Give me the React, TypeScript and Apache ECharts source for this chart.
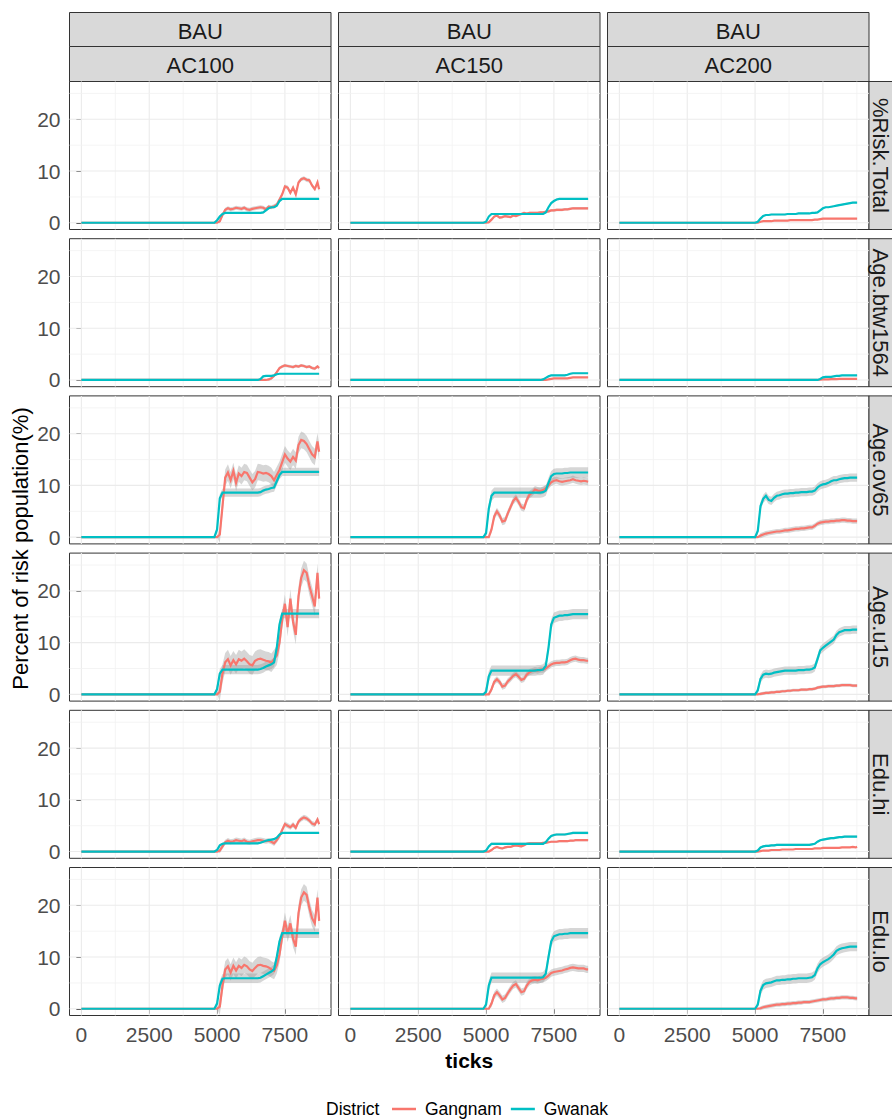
import React, { useEffect, useRef } from "react";
import * as echarts from "echarts";

// ---------------- data ----------------
const TICKS = [0, 4800, 4900, 5000, 5100, 5200, 5300, 5400, 5500, 5600, 5700, 5800, 5900, 6000, 6100, 6200, 6300, 6400, 6500, 6600, 6700, 6800, 6900, 7000, 7100, 7200, 7300, 7400, 7500, 7600, 7700, 7800, 7900, 8000, 8100, 8200, 8300, 8400, 8500, 8600, 8700, 8760];

const TOP_STRIP = "BAU";
const COLUMNS = ["AC100", "AC150", "AC200"];
const ROWS = ["%Risk.Total", "Age.btw1564", "Age.ov65", "Age.u15", "Edu.hi", "Edu.lo"];
const DISTRICTS = ["Gangnam", "Gwanak"];
const X_TICK_LABELS = [0, 2500, 5000, 7500];
const Y_TICK_LABELS = [0, 10, 20];
const X_GRID = [0, 1250, 2500, 3750, 5000, 6250, 7500, 8750];
const Y_GRID = [0, 5, 10, 15, 20, 25];

// AC100
const GANGNAM_AC100_RISK = [0, 0, 0, 0, 0.3, 1.5, 2.5, 2.8, 2.6, 2.7, 2.9, 2.8, 2.7, 2.9, 2.6, 2.5, 2.7, 2.8, 2.9, 3.0, 2.9, 2.6, 3.1, 3.0, 3.2, 3.5, 4.5, 5.5, 7.0, 6.8, 5.8, 6.8, 5.5, 7.8, 8.4, 8.6, 8.3, 8.2, 7.2, 6.5, 7.8, 6.5];
const GWANAK_AC100_RISK = [0, 0, 0, 0.5, 1.2, 1.7, 1.9, 1.9, 1.9, 1.9, 1.9, 1.9, 1.9, 1.9, 1.9, 1.9, 1.9, 1.9, 1.9, 1.9, 2.0, 2.4, 2.8, 3.0, 3.0, 3.3, 4.2, 4.6, 4.6, 4.6, 4.6, 4.6, 4.6, 4.6, 4.6, 4.6, 4.6, 4.6, 4.6, 4.6, 4.6, 4.6];
const GANGNAM_AC100_BTW1564 = [0, 0, 0, 0, 0, 0, 0, 0, 0, 0, 0, 0, 0, 0, 0, 0, 0, 0, 0, 0, 0, 0, 0.1, 0.3, 0.8, 1.5, 2.3, 2.6, 2.8, 2.7, 2.6, 2.5, 2.7, 2.6, 2.8, 2.7, 2.5, 2.6, 2.3, 2.2, 2.6, 2.3];
const GWANAK_AC100_BTW1564 = [0, 0, 0, 0, 0, 0, 0, 0, 0, 0, 0, 0, 0, 0, 0, 0, 0, 0, 0, 0.2, 0.7, 0.8, 0.8, 0.8, 0.9, 1.1, 1.2, 1.2, 1.2, 1.2, 1.2, 1.2, 1.2, 1.2, 1.2, 1.2, 1.2, 1.2, 1.2, 1.2, 1.2, 1.2];
const GANGNAM_AC100_OV65 = [0, 0, 0, 0, 0.5, 6.0, 11.5, 12.5, 11.0, 12.8, 10.5, 12.3, 11.8, 12.6, 12.4, 11.5, 10.6, 11.2, 12.6, 12.5, 12.3, 12.4, 12.2, 11.8, 11.0, 12.0, 13.0, 14.5, 16.0, 15.2, 14.6, 15.5, 14.8, 17.8, 18.8, 18.6, 18.0, 17.0, 16.0, 15.5, 18.5, 16.5];
const GWANAK_AC100_OV65 = [0, 0, 0, 1.5, 7.5, 8.6, 8.6, 8.6, 8.6, 8.6, 8.6, 8.6, 8.6, 8.6, 8.6, 8.6, 8.6, 8.6, 8.6, 8.7, 9.0, 9.2, 9.3, 9.5, 9.6, 10.8, 12.0, 12.6, 12.6, 12.6, 12.6, 12.6, 12.6, 12.6, 12.6, 12.6, 12.6, 12.6, 12.6, 12.6, 12.6, 12.6];
const GANGNAM_AC100_U15 = [0, 0, 0, 0, 0.5, 4.0, 6.2, 6.8, 5.6, 6.6, 5.8, 6.8, 6.5, 6.9, 6.4, 5.8, 5.6, 6.5, 6.8, 6.9, 6.7, 6.5, 6.4, 6.1, 6.8, 7.5, 10.0, 14.5, 17.5, 13.0, 18.5, 14.0, 11.5, 19.0, 22.5, 24.0, 23.5, 21.0, 19.0, 17.0, 23.5, 18.5];
const GWANAK_AC100_U15 = [0, 0, 0, 1.0, 4.0, 4.8, 4.8, 4.8, 4.8, 4.8, 4.8, 4.8, 4.8, 4.8, 4.8, 4.8, 4.8, 4.8, 4.8, 4.9, 5.1, 5.4, 5.6, 5.8, 6.2, 9.0, 13.5, 15.6, 15.6, 15.6, 15.6, 15.6, 15.6, 15.6, 15.6, 15.6, 15.6, 15.6, 15.6, 15.6, 15.6, 15.6];
const GANGNAM_AC100_EDUHI = [0, 0, 0, 0, 0.2, 1.0, 1.8, 2.1, 1.9, 2.0, 2.2, 2.1, 2.0, 2.2, 1.9, 1.8, 2.0, 2.1, 2.2, 2.2, 2.1, 2.0, 2.1, 1.9, 1.6, 2.2, 3.0, 4.2, 5.3, 5.0, 4.7, 5.2, 4.6, 5.8, 6.3, 6.6, 6.4, 6.0, 5.4, 5.2, 6.2, 5.3];
const GWANAK_AC100_EDUHI = [0, 0, 0, 0.3, 1.2, 1.5, 1.6, 1.6, 1.6, 1.6, 1.6, 1.6, 1.6, 1.6, 1.6, 1.6, 1.6, 1.6, 1.6, 1.7, 1.9, 2.1, 2.2, 2.3, 2.4, 2.7, 3.3, 3.6, 3.6, 3.6, 3.6, 3.6, 3.6, 3.6, 3.6, 3.6, 3.6, 3.6, 3.6, 3.6, 3.6, 3.6];
const GANGNAM_AC100_EDULO = [0, 0, 0, 0, 0.4, 4.5, 7.6, 8.2, 7.0, 8.3, 7.4, 8.3, 7.9, 8.5, 8.2, 7.6, 7.3, 7.9, 8.4, 8.5, 8.3, 8.2, 8.0, 7.6, 7.3, 8.4, 10.5, 14.0, 17.0, 14.5, 16.5, 13.5, 12.0, 18.5, 21.5, 22.5, 22.0, 19.5, 17.5, 16.5, 21.5, 17.0];
const GWANAK_AC100_EDULO = [0, 0, 0, 1.0, 4.5, 5.8, 5.9, 5.9, 5.9, 5.9, 5.9, 5.9, 5.9, 5.9, 5.9, 5.9, 5.9, 5.9, 5.9, 6.0, 6.3, 6.6, 6.9, 7.2, 7.6, 10.0, 13.0, 14.6, 14.6, 14.6, 14.6, 14.6, 14.6, 14.6, 14.6, 14.6, 14.6, 14.6, 14.6, 14.6, 14.6, 14.6];

// AC150
const GANGNAM_AC150_RISK = [0, 0, 0, 0, 0.1, 0.6, 1.2, 1.4, 1.0, 1.1, 1.3, 1.2, 1.1, 1.4, 1.3, 1.5, 1.7, 1.9, 1.8, 1.9, 1.9, 1.9, 1.9, 2.0, 2.0, 2.1, 2.2, 2.4, 2.4, 2.5, 2.5, 2.5, 2.6, 2.6, 2.7, 2.8, 2.8, 2.8, 2.8, 2.8, 2.8, 2.8];
const GWANAK_AC150_RISK = [0, 0, 0, 0.2, 1.2, 1.7, 1.7, 1.7, 1.7, 1.7, 1.7, 1.7, 1.7, 1.7, 1.7, 1.7, 1.7, 1.7, 1.7, 1.7, 1.7, 1.7, 1.7, 1.7, 1.7, 2.0, 3.0, 3.8, 4.2, 4.5, 4.6, 4.6, 4.6, 4.6, 4.6, 4.6, 4.6, 4.6, 4.6, 4.6, 4.6, 4.6];
const GANGNAM_AC150_BTW1564 = [0, 0, 0, 0, 0, 0, 0, 0, 0, 0, 0, 0, 0, 0, 0, 0, 0, 0, 0, 0, 0, 0, 0, 0, 0, 0, 0.1, 0.2, 0.3, 0.3, 0.3, 0.3, 0.3, 0.3, 0.4, 0.5, 0.5, 0.5, 0.5, 0.5, 0.5, 0.5];
const GWANAK_AC150_BTW1564 = [0, 0, 0, 0, 0, 0, 0, 0, 0, 0, 0, 0, 0, 0, 0, 0, 0, 0, 0, 0, 0, 0, 0, 0, 0.1, 0.4, 0.7, 0.9, 0.9, 0.9, 0.9, 0.9, 0.9, 1.0, 1.2, 1.3, 1.3, 1.3, 1.3, 1.3, 1.3, 1.3];
const GANGNAM_AC150_OV65 = [0, 0, 0, 0, 0, 1.5, 4.0, 5.0, 4.2, 3.0, 3.2, 4.6, 5.8, 7.0, 7.6, 6.8, 5.8, 5.6, 7.2, 8.2, 8.6, 9.2, 9.0, 8.9, 9.1, 9.4, 10.0, 10.6, 10.9, 11.0, 10.8, 10.7, 10.8, 10.9, 11.0, 11.2, 11.0, 10.9, 10.8, 10.9, 10.8, 10.7];
const GWANAK_AC150_OV65 = [0, 0, 0, 0.8, 5.5, 8.0, 8.6, 8.6, 8.6, 8.6, 8.6, 8.6, 8.6, 8.6, 8.6, 8.6, 8.6, 8.6, 8.6, 8.6, 8.6, 8.6, 8.6, 8.6, 8.7, 9.0, 10.5, 11.8, 12.2, 12.3, 12.3, 12.3, 12.4, 12.4, 12.5, 12.5, 12.5, 12.5, 12.5, 12.5, 12.5, 12.5];
const GANGNAM_AC150_U15 = [0, 0, 0, 0, 0, 1.0, 2.4, 2.9, 2.4, 1.5, 1.7, 2.5, 3.0, 3.6, 3.9, 3.4, 2.8, 3.0, 3.8, 4.3, 4.5, 4.7, 4.6, 4.8, 4.8, 5.0, 5.4, 5.8, 6.0, 6.1, 6.1, 6.2, 6.2, 6.3, 6.6, 6.8, 6.9, 6.7, 6.6, 6.6, 6.5, 6.5];
const GWANAK_AC150_U15 = [0, 0, 0, 0.5, 3.5, 4.6, 4.6, 4.6, 4.6, 4.6, 4.6, 4.6, 4.6, 4.6, 4.6, 4.6, 4.6, 4.6, 4.6, 4.6, 4.6, 4.6, 4.7, 4.7, 4.8, 5.5, 9.0, 13.5, 14.8, 15.0, 15.2, 15.2, 15.3, 15.3, 15.4, 15.5, 15.5, 15.5, 15.5, 15.5, 15.5, 15.5];
const GANGNAM_AC150_EDUHI = [0, 0, 0, 0, 0, 0.3, 0.7, 0.9, 0.7, 0.6, 0.8, 0.9, 0.9, 1.1, 1.2, 1.1, 1.0, 1.2, 1.5, 1.6, 1.6, 1.6, 1.6, 1.6, 1.7, 1.7, 1.8, 1.9, 1.9, 1.9, 2.0, 2.0, 2.0, 2.0, 2.1, 2.1, 2.2, 2.2, 2.2, 2.2, 2.2, 2.2];
const GWANAK_AC150_EDUHI = [0, 0, 0, 0.2, 1.0, 1.5, 1.5, 1.5, 1.5, 1.5, 1.5, 1.5, 1.5, 1.5, 1.5, 1.5, 1.5, 1.5, 1.5, 1.5, 1.5, 1.5, 1.5, 1.5, 1.5, 1.8, 2.5, 3.0, 3.2, 3.3, 3.3, 3.3, 3.3, 3.4, 3.5, 3.6, 3.6, 3.6, 3.6, 3.6, 3.6, 3.6];
const GANGNAM_AC150_EDULO = [0, 0, 0, 0, 0, 1.0, 2.6, 3.2, 2.6, 1.8, 2.1, 3.0, 3.8, 4.5, 4.8, 4.0, 3.2, 3.4, 4.5, 5.2, 5.5, 5.6, 5.5, 5.7, 5.8, 6.0, 6.4, 6.9, 7.1, 7.2, 7.3, 7.4, 7.6, 7.7, 7.9, 8.0, 7.9, 7.8, 7.8, 7.8, 7.6, 7.6];
const GWANAK_AC150_EDULO = [0, 0, 0, 0.8, 4.5, 6.0, 6.0, 6.0, 6.0, 6.0, 6.0, 6.0, 6.0, 6.0, 6.0, 6.0, 6.0, 6.0, 6.0, 6.0, 6.0, 6.0, 6.0, 6.0, 6.1, 6.8, 10.0, 13.0, 14.0, 14.2, 14.4, 14.4, 14.5, 14.5, 14.6, 14.6, 14.6, 14.6, 14.6, 14.6, 14.6, 14.6];

// AC200
const GANGNAM_AC200_RISK = [0, 0, 0, 0, 0, 0.2, 0.3, 0.3, 0.3, 0.3, 0.4, 0.4, 0.4, 0.4, 0.4, 0.4, 0.5, 0.5, 0.5, 0.5, 0.5, 0.5, 0.5, 0.5, 0.5, 0.6, 0.6, 0.7, 0.8, 0.8, 0.8, 0.8, 0.8, 0.8, 0.8, 0.8, 0.8, 0.8, 0.8, 0.8, 0.8, 0.8];
const GWANAK_AC200_RISK = [0, 0, 0, 0, 0.2, 0.8, 1.3, 1.5, 1.5, 1.6, 1.6, 1.6, 1.6, 1.6, 1.6, 1.7, 1.7, 1.7, 1.7, 1.8, 1.8, 1.8, 1.8, 1.8, 1.9, 1.9, 2.0, 2.4, 2.8, 3.0, 3.0, 3.1, 3.2, 3.3, 3.4, 3.5, 3.6, 3.7, 3.8, 3.9, 3.9, 3.9];
const GANGNAM_AC200_BTW1564 = [0, 0, 0, 0, 0, 0, 0, 0, 0, 0, 0, 0, 0, 0, 0, 0, 0, 0, 0, 0, 0, 0, 0, 0, 0, 0, 0, 0.05, 0.1, 0.1, 0.1, 0.15, 0.15, 0.15, 0.2, 0.2, 0.2, 0.2, 0.2, 0.2, 0.2, 0.2];
const GWANAK_AC200_BTW1564 = [0, 0, 0, 0, 0, 0, 0, 0, 0, 0, 0, 0, 0, 0, 0, 0, 0, 0, 0, 0, 0, 0, 0, 0, 0, 0, 0, 0.2, 0.5, 0.6, 0.6, 0.6, 0.7, 0.8, 0.8, 0.9, 0.9, 0.9, 0.9, 0.9, 0.9, 0.9];
const GANGNAM_AC200_OV65 = [0, 0, 0, 0, 0, 0.3, 0.5, 0.7, 0.8, 0.9, 1.0, 1.1, 1.1, 1.2, 1.3, 1.3, 1.4, 1.5, 1.6, 1.6, 1.7, 1.7, 1.8, 1.9, 1.9, 2.2, 2.6, 2.8, 2.9, 3.0, 3.0, 3.1, 3.1, 3.2, 3.2, 3.3, 3.3, 3.2, 3.2, 3.1, 3.1, 3.1];
const GWANAK_AC200_OV65 = [0, 0, 0, 0, 1.2, 6.0, 7.4, 8.0, 7.2, 7.0, 7.6, 8.0, 8.1, 8.3, 8.4, 8.4, 8.5, 8.5, 8.6, 8.6, 8.7, 8.7, 8.7, 8.8, 8.8, 9.0, 9.6, 10.0, 10.2, 10.3, 10.5, 10.8, 11.0, 11.0, 11.2, 11.3, 11.4, 11.4, 11.5, 11.5, 11.5, 11.5];
const GANGNAM_AC200_U15 = [0, 0, 0, 0, 0, 0.1, 0.2, 0.3, 0.3, 0.4, 0.4, 0.5, 0.5, 0.6, 0.6, 0.7, 0.7, 0.8, 0.8, 0.8, 0.9, 0.9, 0.9, 1.0, 1.0, 1.1, 1.3, 1.4, 1.5, 1.5, 1.6, 1.6, 1.6, 1.7, 1.7, 1.8, 1.8, 1.8, 1.8, 1.7, 1.7, 1.7];
const GWANAK_AC200_U15 = [0, 0, 0, 0, 0.8, 3.0, 3.8, 4.0, 3.9, 4.0, 4.2, 4.3, 4.4, 4.5, 4.6, 4.6, 4.6, 4.6, 4.6, 4.7, 4.7, 4.7, 4.8, 4.8, 4.9, 5.2, 6.8, 8.5, 9.0, 9.4, 9.8, 10.2, 10.6, 11.5, 12.0, 12.2, 12.4, 12.4, 12.4, 12.5, 12.5, 12.5];
const GANGNAM_AC200_EDUHI = [0, 0, 0, 0, 0, 0.1, 0.2, 0.2, 0.2, 0.3, 0.3, 0.3, 0.3, 0.4, 0.4, 0.4, 0.4, 0.4, 0.5, 0.5, 0.5, 0.5, 0.5, 0.5, 0.5, 0.6, 0.6, 0.6, 0.7, 0.7, 0.7, 0.7, 0.7, 0.7, 0.7, 0.8, 0.8, 0.8, 0.8, 0.9, 0.8, 0.9];
const GWANAK_AC200_EDUHI = [0, 0, 0, 0, 0.2, 0.8, 1.0, 1.1, 1.1, 1.2, 1.2, 1.3, 1.3, 1.3, 1.3, 1.3, 1.3, 1.3, 1.3, 1.3, 1.3, 1.3, 1.3, 1.3, 1.4, 1.5, 1.9, 2.2, 2.3, 2.4, 2.5, 2.6, 2.6, 2.7, 2.8, 2.8, 2.9, 2.9, 2.9, 2.9, 2.9, 2.9];
const GANGNAM_AC200_EDULO = [0, 0, 0, 0, 0, 0.1, 0.3, 0.4, 0.5, 0.6, 0.7, 0.8, 0.8, 0.9, 0.9, 1.0, 1.0, 1.1, 1.1, 1.2, 1.2, 1.3, 1.3, 1.3, 1.4, 1.5, 1.6, 1.7, 1.8, 1.8, 1.9, 2.0, 2.0, 2.1, 2.1, 2.2, 2.2, 2.2, 2.1, 2.1, 2.0, 2.0];
const GWANAK_AC200_EDULO = [0, 0, 0, 0, 0.8, 3.5, 4.6, 4.9, 5.0, 5.1, 5.3, 5.5, 5.5, 5.6, 5.6, 5.7, 5.7, 5.8, 5.8, 5.9, 5.9, 5.9, 5.9, 6.0, 6.1, 6.5, 7.8, 8.6, 9.0, 9.3, 9.6, 10.0, 10.5, 11.2, 11.5, 11.7, 11.8, 11.9, 12.0, 12.0, 12.0, 12.0];

// standard errors of the ribbons, one per row (same order as ROWS)
const SE_GANGNAM_AC100 = [0.4, 0.3, 1.6, 1.8, 0.5, 1.6];
const SE_GWANAK_AC100 = [0.2, 0.15, 0.8, 0.9, 0.2, 0.9];
const SE_GANGNAM_AC150 = [0.25, 0.1, 0.7, 0.6, 0.2, 0.7];
const SE_GWANAK_AC150 = [0.2, 0.15, 1.0, 1.0, 0.25, 1.0];
const SE_GANGNAM_AC200 = [0.1, 0.05, 0.5, 0.3, 0.1, 0.4];
const SE_GWANAK_AC200 = [0.15, 0.1, 0.8, 0.8, 0.2, 0.9];

// lookup tables [column][row]
const GANGNAM = [
  [GANGNAM_AC100_RISK, GANGNAM_AC100_BTW1564, GANGNAM_AC100_OV65, GANGNAM_AC100_U15, GANGNAM_AC100_EDUHI, GANGNAM_AC100_EDULO],
  [GANGNAM_AC150_RISK, GANGNAM_AC150_BTW1564, GANGNAM_AC150_OV65, GANGNAM_AC150_U15, GANGNAM_AC150_EDUHI, GANGNAM_AC150_EDULO],
  [GANGNAM_AC200_RISK, GANGNAM_AC200_BTW1564, GANGNAM_AC200_OV65, GANGNAM_AC200_U15, GANGNAM_AC200_EDUHI, GANGNAM_AC200_EDULO],
];
const GWANAK = [
  [GWANAK_AC100_RISK, GWANAK_AC100_BTW1564, GWANAK_AC100_OV65, GWANAK_AC100_U15, GWANAK_AC100_EDUHI, GWANAK_AC100_EDULO],
  [GWANAK_AC150_RISK, GWANAK_AC150_BTW1564, GWANAK_AC150_OV65, GWANAK_AC150_U15, GWANAK_AC150_EDUHI, GWANAK_AC150_EDULO],
  [GWANAK_AC200_RISK, GWANAK_AC200_BTW1564, GWANAK_AC200_OV65, GWANAK_AC200_U15, GWANAK_AC200_EDUHI, GWANAK_AC200_EDULO],
];
const SE_GANGNAM = [SE_GANGNAM_AC100, SE_GANGNAM_AC150, SE_GANGNAM_AC200];
const SE_GWANAK = [SE_GWANAK_AC100, SE_GWANAK_AC150, SE_GWANAK_AC200];

// ---------------- layout / style ----------------
const WIDTH = 892;
const HEIGHT = 1120;
const FONT = "'Liberation Sans', Arial, Helvetica, sans-serif";
const COL_LEFT = [69.5, 338.5, 607.5];
const PANEL_W = 261.5;
const ROW_TOP0 = 81.5;
const ROW_STEP = 157.2;
const PANEL_H = 148;
const X_MIN = -438;
const X_MAX = 9198;
const Y_MIN = -1.3;
const Y_MAX = 27.3;
const COLORS = ["#F8766D", "#00BFC4"];
const RIBBON_FILL = "rgba(153,153,153,0.4)";
const STRIP_FILL = "#D9D9D9";
const BORDER = "#333333";

function buildOption() {
  const grids: any[] = [];
  const xAxes: any[] = [];
  const yAxes: any[] = [];
  const series: any[] = [];
  const graphics: any[] = [];

  for (let r = 0; r < ROWS.length; r++) {
    for (let c = 0; c < COLUMNS.length; c++) {
      const p = grids.length;
      const top = ROW_TOP0 + r * ROW_STEP;
      const isBottom = r === ROWS.length - 1;
      const isLeft = c === 0;
      grids.push({
        left: COL_LEFT[c],
        top,
        width: PANEL_W,
        height: PANEL_H,
        show: true,
        backgroundColor: "#ffffff",
        borderColor: BORDER,
        borderWidth: 1,
        containLabel: false,
        outerBoundsMode: "none",
      });
      xAxes.push({
        type: "value",
        gridIndex: p,
        min: X_MIN,
        max: X_MAX,
        splitLine: { show: false },
        axisLine: { show: false },
        axisTick: {
          show: isBottom,
          customValues: X_TICK_LABELS,
          length: 5,
          lineStyle: { color: BORDER, width: 1 },
        },
        axisLabel: {
          show: isBottom,
          customValues: X_TICK_LABELS,
          margin: 8,
          fontSize: 21,
          color: "#4D4D4D",
          fontFamily: FONT,
          formatter: (v: number) => String(v),
        },
      });
      yAxes.push({
        type: "value",
        gridIndex: p,
        min: Y_MIN,
        max: Y_MAX,
        splitLine: { show: false },
        axisLine: { show: false },
        axisTick: {
          show: isLeft,
          customValues: Y_TICK_LABELS,
          length: 5,
          lineStyle: { color: BORDER, width: 1 },
        },
        axisLabel: {
          show: isLeft,
          customValues: Y_TICK_LABELS,
          margin: 9,
          fontSize: 21,
          color: "#4D4D4D",
          fontFamily: FONT,
          formatter: (v: number) => String(v),
        },
      });

      // grid lines (vertical)
      series.push({
        type: "custom",
        xAxisIndex: p,
        yAxisIndex: p,
        silent: true,
        z: 1,
        data: X_GRID.map((v) => [v, 0]),
        renderItem: (params: any, api: any) => {
          const x = api.value(0);
          const a = api.coord([x, Y_MIN]);
          const b = api.coord([x, Y_MAX]);
          const major = x % 2500 === 0;
          return {
            type: "line",
            shape: { x1: a[0], y1: a[1], x2: b[0], y2: b[1] },
            style: { stroke: major ? "#EBEBEB" : "#F1F1F1", lineWidth: major ? 1.1 : 0.8 },
          };
        },
      });
      // grid lines (horizontal)
      series.push({
        type: "custom",
        xAxisIndex: p,
        yAxisIndex: p,
        silent: true,
        z: 1,
        data: Y_GRID.map((v) => [0, v]),
        renderItem: (params: any, api: any) => {
          const y = api.value(1);
          const a = api.coord([X_MIN, y]);
          const b = api.coord([X_MAX, y]);
          const major = y % 10 === 0;
          return {
            type: "line",
            shape: { x1: a[0], y1: a[1], x2: b[0], y2: b[1] },
            style: { stroke: major ? "#EBEBEB" : "#F1F1F1", lineWidth: major ? 1.1 : 0.8 },
          };
        },
      });

      const dataSets = [GANGNAM[c][r], GWANAK[c][r]];
      const seSets = [SE_GANGNAM[c][r], SE_GWANAK[c][r]];

      // ribbons
      dataSets.forEach((vals, d) => {
        const se = seSets[d];
        series.push({
          type: "custom",
          name: "ribbon",
          xAxisIndex: p,
          yAxisIndex: p,
          silent: true,
          z: 2,
          encode: { x: 0, y: [1, 2] },
          data: TICKS.map((t, i) => {
            const v = vals[i];
            const s = v > 0 ? se : 0;
            return [t, v - s, v + s];
          }),
          renderItem: (params: any, api: any) => {
            if (params.dataIndexInside !== 0) return null;
            const n = params.dataInsideLength;
            const upper: number[][] = [];
            const lower: number[][] = [];
            for (let i = 0; i < n; i++) {
              const x = api.value(0, i);
              upper.push(api.coord([x, api.value(2, i)]));
              lower.push(api.coord([x, api.value(1, i)]));
            }
            return {
              type: "polygon",
              shape: { points: upper.concat(lower.reverse()) },
              style: { fill: RIBBON_FILL },
            };
          },
        });
      });

      // lines
      dataSets.forEach((vals, d) => {
        series.push({
          type: "line",
          name: DISTRICTS[d],
          xAxisIndex: p,
          yAxisIndex: p,
          silent: true,
          z: 3 + d,
          smooth: false,
          symbol: "none",
          showSymbol: false,
          data: TICKS.map((t, i) => [t, vals[i]]),
          lineStyle: { color: COLORS[d], width: 2.2, join: "miter" },
          itemStyle: { color: COLORS[d] },
        });
      });

      // right strip
      if (c === COLUMNS.length - 1) {
        const sx = COL_LEFT[c] + PANEL_W;
        graphics.push({
          type: "rect",
          shape: { x: sx, y: top, width: 40, height: PANEL_H },
          style: { fill: STRIP_FILL, stroke: BORDER, lineWidth: 1 },
        });
        graphics.push({
          type: "text",
          x: sx + 11.5,
          y: top + PANEL_H / 2,
          rotation: -Math.PI / 2,
          style: {
            text: ROWS[r],
            fontSize: 22,
            fontFamily: FONT,
            fill: "#1A1A1A",
            align: "center",
            verticalAlign: "middle",
            textAlign: "center",
            textVerticalAlign: "middle",
          },
        });
      }
    }
  }

  // top strips
  for (let c = 0; c < COLUMNS.length; c++) {
    const x = COL_LEFT[c];
    const strips = [
      { y: 12.5, h: 34, text: TOP_STRIP },
      { y: 46.5, h: 35, text: COLUMNS[c] },
    ];
    strips.forEach((s) => {
      graphics.push({
        type: "rect",
        shape: { x, y: s.y, width: PANEL_W, height: s.h },
        style: { fill: STRIP_FILL, stroke: BORDER, lineWidth: 1 },
      });
      graphics.push({
        type: "text",
        x: x + PANEL_W / 2,
        y: s.y + s.h / 2 + 1.5,
        style: {
          text: s.text,
          fontSize: 22,
          fontFamily: FONT,
          fill: "#1A1A1A",
          align: "center",
          verticalAlign: "middle",
          textAlign: "center",
          textVerticalAlign: "middle",
        },
      });
    });
  }

  // axis titles
  graphics.push({
    type: "text",
    x: 20,
    y: ROW_TOP0 + (5 * ROW_STEP + PANEL_H) / 2,
    rotation: Math.PI / 2,
    style: {
      text: "Percent of risk population(%)",
      fontSize: 22,
      fontFamily: FONT,
      fill: "#000000",
      align: "center",
      verticalAlign: "middle",
      textAlign: "center",
      textVerticalAlign: "middle",
    },
  });
  graphics.push({
    type: "text",
    x: (COL_LEFT[0] + COL_LEFT[2] + PANEL_W) / 2,
    y: 1060,
    style: {
      text: "ticks",
      fontSize: 21,
      fontWeight: "bold",
      fontFamily: FONT,
      fill: "#000000",
      align: "center",
      verticalAlign: "middle",
      textAlign: "center",
      textVerticalAlign: "middle",
    },
  });
  // legend title
  graphics.push({
    type: "text",
    x: 326,
    y: 1109,
    style: {
      text: "District",
      fontSize: 17.5,
      fontFamily: FONT,
      fill: "#000000",
      align: "left",
      verticalAlign: "middle",
      textAlign: "left",
      textVerticalAlign: "middle",
    },
  });

  return {
    animation: false,
    backgroundColor: "#ffffff",
    textStyle: { fontFamily: FONT },
    grid: grids,
    xAxis: xAxes,
    yAxis: yAxes,
    series,
    legend: {
      data: DISTRICTS,
      left: 392,
      top: 1100,
      padding: 0,
      orient: "horizontal",
      icon: "rect",
      itemWidth: 24,
      itemHeight: 2.5,
      itemGap: 9,
      selectedMode: false,
      textStyle: { fontSize: 17.5, color: "#000000", fontFamily: FONT, padding: [0, 0, 0, 4] },
    },
    graphic: { elements: graphics },
  };
}

export default function App() {
  const ref = useRef<HTMLDivElement>(null);
  useEffect(() => {
    document.body.style.margin = "0";
    if (!ref.current) return;
    const chart = echarts.init(ref.current, undefined, { renderer: "svg", width: WIDTH, height: HEIGHT });
    chart.setOption(buildOption() as any);
    return () => {
      chart.dispose();
    };
  }, []);
  return <div ref={ref} style={{ width: WIDTH, height: HEIGHT }} />;
}
